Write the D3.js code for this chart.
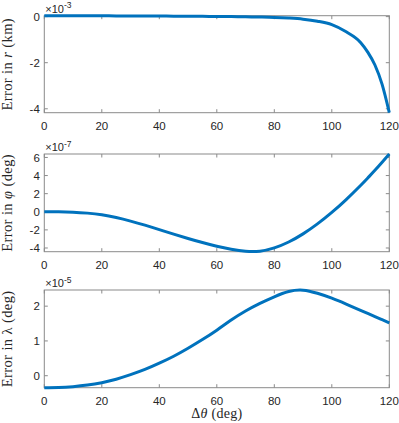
<!DOCTYPE html>
<html><head><meta charset="utf-8">
<script src="https://cdn.jsdelivr.net/npm/d3@7"></script>
<style>body{margin:0;background:#fff}svg{display:block}</style>
</head><body>
<script>
const angles    = [0,5,10,15,20,25,30,35,40,45,50,55,60,65,70,75,80,85,90,95,100,105,110,112.5,115,117.5,120];
const errR      = [0.04,0.04,0.038,0.036,0.034,0.032,0.03,0.027,0.024,0.02,0.016,0.012,0.007,0.0,-0.008,-0.018,-0.033,-0.062,-0.11,-0.2,-0.35,-0.66,-1.12,-1.54,-2.1,-2.94,-4.17];
const errPhi    = [0,-0.005,-0.04,-0.15,-0.34,-0.64,-1.03,-1.48,-1.97,-2.47,-2.95,-3.4,-3.8,-4.13,-4.36,-4.35,-3.99,-3.34,-2.44,-1.34,-0.07,1.35,2.9,3.73,4.58,5.47,6.38];
const errLambda = [-0.345,-0.34,-0.315,-0.27,-0.2,-0.1,0.03,0.18,0.36,0.56,0.79,1.04,1.31,1.6,1.86,2.08,2.27,2.42,2.46,2.37,2.23,2.06,1.88,1.79,1.7,1.61,1.52];
const xTicks = [0,20,40,60,80,100,120];
const yTicksR = [-4,-2,0];
const yTicksPhi = [-4,-2,0,2,4,6];
const yTicksLambda = [0,1,2];
const exponents = ["-3","-7","-5"];
const yLabels = [
  [["Error in ",""],["r","italic"],[" (km)",""]],
  [["Error in ",""],["\u03C6","italic"],[" (deg)",""]],
  [["Error in ",""],["\u03BB",""],[" (deg)",""]]
];
const xLabel = [["\u0394",""],["\u03B8","italic"],[" (deg)",""]];

const W = 399, H = 423;
const svg = d3.select("body").append("svg").attr("width", W).attr("height", H);
const x = d3.scaleLinear().domain([0,120]).range([44.3, 389.3]);
const panels = [
  {data: errR, ticks: yTicksR, range: [112.7, 15.7], curve: d3.curveMonotoneX, dom: null},
  {data: errPhi, ticks: yTicksPhi, range: [251.7, 154], curve: d3.curveNatural, dom: [-4.41, 6.38]},
  {data: errLambda, ticks: yTicksLambda, range: [387.7, 290], curve: d3.curveNatural, dom: [-0.345, 2.465]}
];
const tickFont = "'Liberation Sans', Arial, Helvetica, sans-serif";
const serif = "'Liberation Serif', 'Times New Roman', serif";
const boxColor = "#8a8a8a", textColor = "#262626", tl = 3.5;

panels.forEach((p, i) => {
  const y = d3.scaleLinear().domain(p.dom || d3.extent(p.data)).range(p.range);
  const g = svg.append("g");
  const [x0, x1] = x.range(), yb = p.range[0], yt = p.range[1];
  xTicks.forEach(t => {
    const xp = x(t);
    g.append("line").attr("x1", xp).attr("x2", xp).attr("y1", yb).attr("y2", yb - tl).attr("stroke", boxColor);
    g.append("line").attr("x1", xp).attr("x2", xp).attr("y1", yt).attr("y2", yt + tl).attr("stroke", boxColor);
    g.append("text").attr("x", xp).attr("y", yb + 17.5).attr("text-anchor", "middle")
      .style("font-family", tickFont).attr("font-size", 11.5).attr("fill", textColor).text(t);
  });
  p.ticks.forEach(t => {
    const yp = y(t);
    g.append("line").attr("x1", x0).attr("x2", x0 + tl).attr("y1", yp).attr("y2", yp).attr("stroke", boxColor);
    g.append("line").attr("x1", x1).attr("x2", x1 - tl).attr("y1", yp).attr("y2", yp).attr("stroke", boxColor);
    g.append("text").attr("x", x0 - 4.5).attr("y", yp).attr("dy", "0.36em").attr("text-anchor", "end")
      .style("font-family", tickFont).attr("font-size", 11.5).attr("fill", textColor).text(t);
  });
  g.append("rect").attr("x", x0).attr("y", yt).attr("width", x1 - x0).attr("height", yb - yt)
    .attr("fill", "none").attr("stroke", boxColor).attr("stroke-width", 1);
  const ex = g.append("text").attr("x", x0 + 1).attr("y", yt - 3)
    .style("font-family", tickFont).attr("font-size", 11).attr("fill", textColor);
  ex.append("tspan").text("\u00D710");
  ex.append("tspan").attr("dy", -4.5).attr("font-size", 8.5).text(exponents[i]);
  const line = d3.line().x((d, j) => x(angles[j])).y(d => y(d)).curve(p.curve);
  g.append("path").datum(p.data).attr("d", line).attr("fill", "none")
    .attr("stroke", "#0072BD").attr("stroke-width", 3).attr("stroke-linejoin", "round");
  const cy = (yb + yt) / 2;
  const lab = g.append("text").attr("transform", `translate(11.7,${cy}) rotate(-90)`)
    .attr("text-anchor", "middle").style("font-family", serif).attr("font-size", 14.5)
    .attr("letter-spacing", 0.4).attr("fill", textColor);
  yLabels[i].forEach(([s, st]) => lab.append("tspan").attr("font-style", st || null).text(s));
});
const xl = svg.append("text").attr("x", (x.range()[0] + x.range()[1]) / 2).attr("y", 418)
  .attr("text-anchor", "middle").style("font-family", serif).attr("font-size", 14)
  .attr("letter-spacing", 0.3).attr("fill", textColor);
xLabel.forEach(([s, st]) => xl.append("tspan").attr("font-style", st || null).text(s));
</script>
</body></html>
